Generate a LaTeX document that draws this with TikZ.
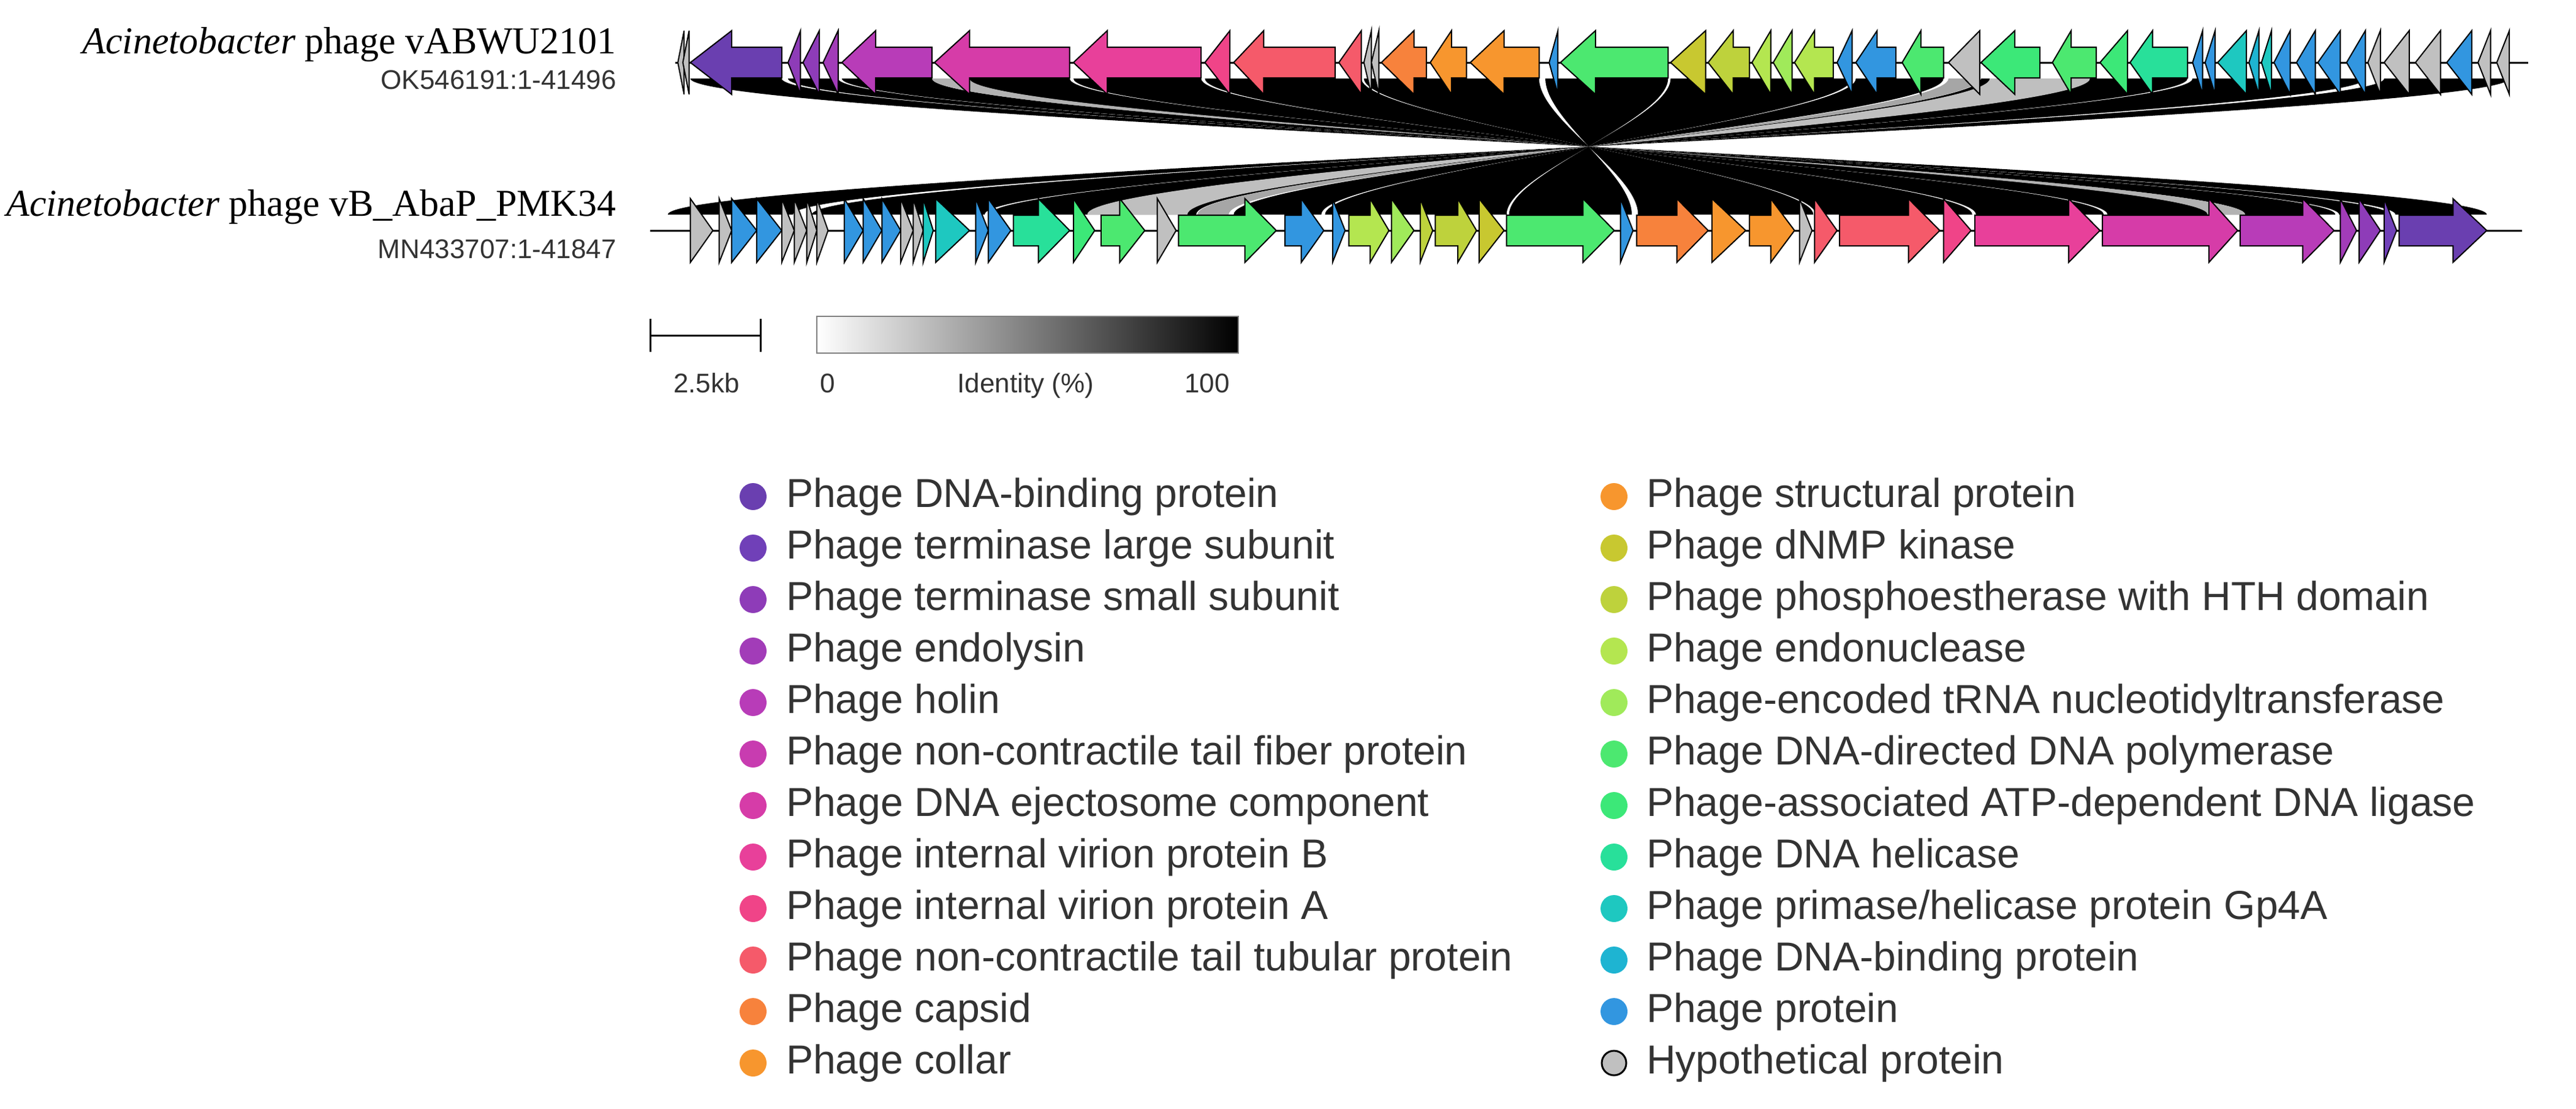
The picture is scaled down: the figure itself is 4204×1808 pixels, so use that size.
\documentclass[tikz,border=0pt]{standalone}
\usepackage{fontspec}
\setmainfont{Liberation Serif}
\newfontfamily\arial{Liberation Sans}
\definecolor{txt}{HTML}{333333}
\definecolor{cA}{HTML}{6A3FB0}\definecolor{cB}{HTML}{7040B8}\definecolor{cC}{HTML}{8E3CB8}
\definecolor{cD}{HTML}{A23CB8}\definecolor{cE}{HTML}{B83CB8}\definecolor{cF}{HTML}{C83CB0}
\definecolor{cG}{HTML}{D63CA8}\definecolor{cH}{HTML}{E8409A}\definecolor{cI}{HTML}{F04488}
\definecolor{cJ}{HTML}{F55A6A}\definecolor{cK}{HTML}{F7823C}\definecolor{cL}{HTML}{F7962E}
\definecolor{cM}{HTML}{F7962E}\definecolor{cN}{HTML}{C8C830}\definecolor{cO}{HTML}{BED23C}
\definecolor{cP}{HTML}{B4E650}\definecolor{cQ}{HTML}{A0EA5A}\definecolor{cR}{HTML}{4CE870}
\definecolor{cS}{HTML}{3CE878}\definecolor{cT}{HTML}{28E09A}\definecolor{cU}{HTML}{1EC8C0}
\definecolor{cV}{HTML}{1EB4D2}\definecolor{cW}{HTML}{3296E0}\definecolor{cX}{HTML}{C0C0C0}
\tikzset{genebox/.style={draw=black,line width=2pt,line join=miter},
 legtext/.style={anchor=west,text=txt,font=\arial\fontsize{66}{70}\selectfont,inner sep=0pt},
 legdot/.style={circle,minimum size=44pt,inner sep=0pt},
 ribbon/.style={fill=black}}
\begin{document}
\begin{tikzpicture}[x=1pt,y=-1pt]
\useasboundingbox[fill=white] (0,0) rectangle (4204,1808);
% titles
\node[anchor=base east,inner sep=0pt,font=\fontsize{62}{66}\selectfont] (t1) at (1006,87) {\textit{Acinetobacter} phage vABWU2101};
\node[anchor=base east,inner sep=0pt,text=txt,font=\arial\fontsize{44}{48}\selectfont] (s1) at (1006,145) {OK546191:1-41496};
\node[anchor=base east,inner sep=0pt,font=\fontsize{62}{66}\selectfont] (t2) at (1006,352) {\textit{Acinetobacter} phage vB\_AbaP\_PMK34};
\node[anchor=base east,inner sep=0pt,text=txt,font=\arial\fontsize{44}{48}\selectfont] (s2) at (1006,421) {MN433707:1-41847};
\begin{scope}[shift={(1000,0)},xscale=2.043]
% ribbons
\foreach \a/\b/\c in {62/135/black,140/180/black,183/255/black,257/365/black,368/470/black,473/598/black,600/740/black,745/843/black,845/990/black,993/1063/black,1067/1092/gray!70,1093/1258/black,1262/1400/black,1415/1515/black,255/285/gray!60,1100/1180/gray!50}{
 \pgfmathsetmacro\ba{1559-\a}\pgfmathsetmacro\bb{1559-\b}
 \fill[\c] (\a,128) .. controls (\a,195) and (\ba,283) .. (\ba,350) -- (\bb,350) .. controls (\bb,283) and (\b,195) .. (\b,128) -- cycle;}
% track lines
\draw[line width=3pt] (50,102) -- (1530,102);
\draw[line width=3pt] (30,376) -- (1525,376);
% top genes (leftward)
\foreach \t/\h/\e/\c in {52/57/57/cX,56/61/61/cX,62/95/135/cA,140/150/150/cC,152/165/165/cC,168/180/180/cD,183/210/255/cE,257/285/365/cG,368/395/470/cH,473/493/493/cI,496/520/577/cJ,580/598/598/cJ,600/606/606/cX,606/612/612/cX,614/640/650/cK,653/670/682/cL,685/712/740/cM,748/755/755/cW,757/785/843/cR,845/873/873/cN,875/895/908/cO,910/925/925/cP,927/942/942/cQ,944/960/975/cP,978/990/990/cW,993/1010/1025/cW,1030/1045/1063/cR,1067/1092/1092/cX,1093/1120/1140/cS,1150/1165/1185/cR,1188/1210/1210/cS,1212/1230/1258/cT,1262/1270/1270/cW,1272/1280/1280/cW,1282/1305/1305/cU,1307/1315/1315/cV,1317/1325/1325/cU,1327/1340/1340/cW,1345/1360/1360/cW,1362/1380/1380/cW,1385/1400/1400/cW,1402/1412/1412/cX,1415/1435/1435/cX,1440/1460/1460/cX,1465/1485/1485/cW,1490/1500/1500/cX,1505/1515/1515/cX}{
 \draw[genebox,fill=\c] (\t,102) -- (\h,50) -- (\h,77) -- (\e,77) -- (\e,127) -- (\h,127) -- (\h,154) -- cycle;}
% bottom genes (rightward)
\foreach \s/\h/\t/\c in {62/62/80/cX,85/85/95/cX,95/95/115/cW,115/115/135/cW,135/135/145/cX,145/145/155/cX,155/155/163/cX,163/163/172/cX,185/185/200/cW,200/200/215/cW,215/215/230/cW,230/230/240/cX,240/240/248/cX,248/248/256/cU,258/258/285/cU,290/290/300/cW,300/300/318/cW,320/340/365/cT,368/368/385/cS,390/405/425/cR,435/435/450/cX,452/505/530/cR,537/550/568/cW,575/575/585/cW,588/605/620/cP,622/622/640/cQ,645/645/655/cO,657/675/690/cO,692/692/712/cN,714/775/800/cR,805/805/815/cW,818/850/875/cK,878/878/905/cL,908/925/944/cM,948/948/958/cX,960/960/978/cJ,980/1035/1060/cJ,1063/1063/1085/cI,1088/1163/1188/cH,1190/1275/1298/cG,1300/1350/1375/cE,1380/1380/1393/cD,1395/1395/1412/cC,1415/1415/1425/cB,1427/1470/1497/cA}{
 \draw[genebox,fill=\c] (\t,376) -- (\h,324) -- (\h,351) -- (\s,351) -- (\s,401) -- (\h,401) -- (\h,428) -- cycle;}
\end{scope}
% scale bar
\draw[line width=3pt] (1061,547) -- (1241,547);
\draw[line width=3pt] (1061,520) -- (1061,574);
\draw[line width=3pt] (1241,520) -- (1241,574);
\node[anchor=base,inner sep=0pt,text=txt,font=\arial\fontsize{44}{48}\selectfont] (sb) at (1153,640) {2.5kb};
\shade[left color=white,right color=black] (1333,516) rectangle (2021,576);
\draw[gray,line width=2pt] (1333,516) rectangle (2021,576);
\node[anchor=base,inner sep=0pt,text=txt,font=\arial\fontsize{44}{48}\selectfont] (g0) at (1351,640) {0};
\node[anchor=base,inner sep=0pt,text=txt,font=\arial\fontsize{44}{48}\selectfont] (gi) at (1674,640) {Identity (\%)};
\node[anchor=base,inner sep=0pt,text=txt,font=\arial\fontsize{44}{48}\selectfont] (g1) at (1970,640) {100};
% legend
\foreach \c/\l [count=\i from 0] in {cA/Phage DNA-binding protein,cB/Phage terminase large subunit,cC/Phage terminase small subunit,cD/Phage endolysin,cE/Phage holin,cF/Phage non-contractile tail fiber protein,cG/Phage DNA ejectosome component,cH/Phage internal virion protein B,cI/Phage internal virion protein A,cJ/Phage non-contractile tail tubular protein,cK/Phage capsid,cL/Phage collar}{
 \node[legdot,fill=\c] (da\i) at (1229,{810+84*\i}) {};
 \node[legtext] (la\i) at (1283,{810+84*\i}) {\l};}
\foreach \c/\l [count=\i from 0] in {cM/{Phage structural protein},cN/{Phage dNMP kinase},cO/{Phage phosphoestherase with HTH domain},cP/{Phage endonuclease},cQ/{Phage-encoded tRNA nucleotidyltransferase},cR/{Phage DNA-directed DNA polymerase},cS/{Phage-associated ATP-dependent DNA ligase},cT/{Phage DNA helicase},cU/{Phage primase{/}helicase protein Gp4A},cV/{Phage DNA-binding protein},cW/{Phage protein}}{
 \node[legdot,fill=\c] (db\i) at (2634,{810+84*\i}) {};
 \node[legtext] (lb\i) at (2687,{810+84*\i}) {\l};}
\node[legdot,fill=cX,draw=black,line width=3pt,minimum size=40pt] (db11) at (2634,1734) {};
\node[legtext] (lb11) at (2687,1734) {Hypothetical protein};
\end{tikzpicture}
\end{document}
